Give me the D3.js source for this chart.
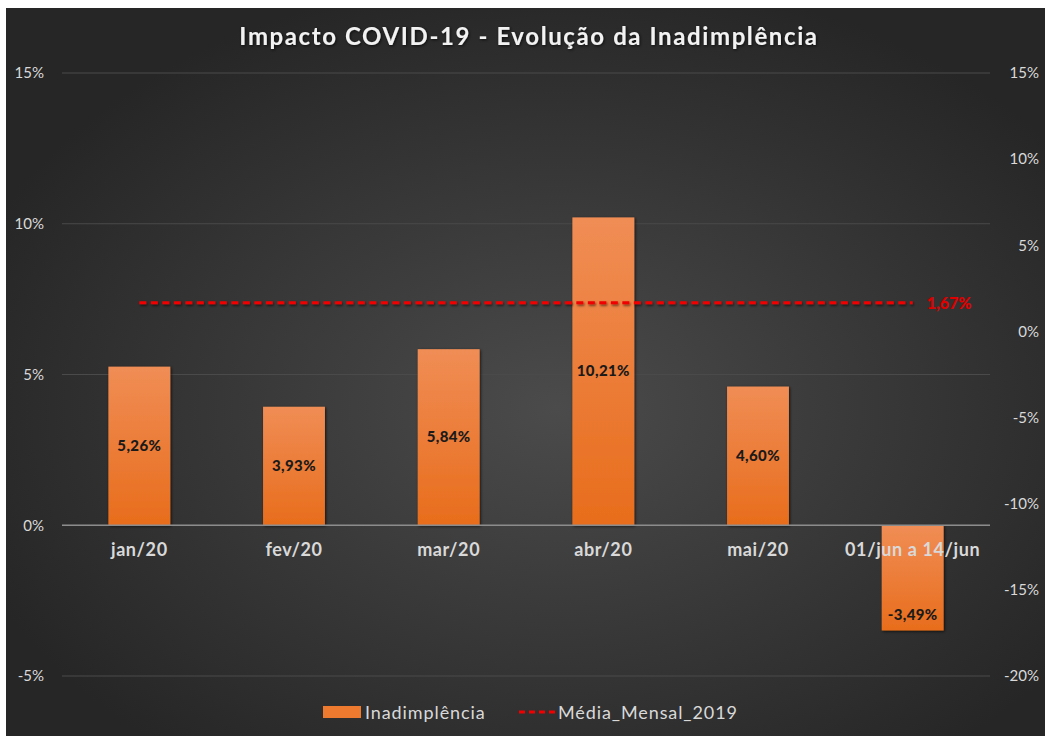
<!DOCTYPE html>
<html>
<head>
<meta charset="utf-8">
<script src="https://cdn.jsdelivr.net/npm/d3@7"></script>
<style>
  body { margin: 0; background: #fff; }
  svg { display: block; font-family: Lato, "Open Sans", sans-serif; }
</style>
</head>
<body>
<svg width="1045" height="736"></svg>
<script>
var categories = ["jan/20", "fev/20", "mar/20", "abr/20", "mai/20", "01/jun a 14/jun"];
var inadValues = [5.26, 3.93, 5.84, 10.21, 4.60, -3.49];
var mediaMensal2019 = 1.67;
var leftTicks = [-5, 0, 5, 10, 15];
var rightTicks = [-20, -15, -10, -5, 0, 5, 10, 15];

var svg = d3.select("svg");
var width = 1045, height = 736;
var fmt = function(v) { return d3.format(".2f")(v).replace("−", "-").replace(".", ",") + "%"; };
var pct = function(d) { return String(d).replace("−", "-") + "%"; };

var defs = svg.append("defs");
var bg = defs.append("radialGradient").attr("id", "bg")
  .attr("cx", "0.53").attr("cy", "0.55").attr("r", "0.6");
bg.append("stop").attr("offset", "0%").attr("stop-color", "#4b4b4b");
bg.append("stop").attr("offset", "100%").attr("stop-color", "#262626");

var barGrad = defs.append("linearGradient").attr("id", "barGrad")
  .attr("x1", 0).attr("y1", 0).attr("x2", 0).attr("y2", 1);
barGrad.append("stop").attr("offset", "0%").attr("stop-color", "#f08d55");
barGrad.append("stop").attr("offset", "100%").attr("stop-color", "#e86d1c");

var shadow = defs.append("filter").attr("id", "shadow")
  .attr("x", "-20%").attr("y", "-20%").attr("width", "140%").attr("height", "140%");
shadow.append("feDropShadow").attr("dx", 1).attr("dy", 1).attr("stdDeviation", 1.5)
  .attr("flood-color", "#000").attr("flood-opacity", 0.7);

var lineShadow = defs.append("filter").attr("id", "lineShadow")
  .attr("filterUnits", "userSpaceOnUse")
  .attr("x", 0).attr("y", 0).attr("width", width).attr("height", height);
lineShadow.append("feDropShadow").attr("dx", 1).attr("dy", 1.5).attr("stdDeviation", 1)
  .attr("flood-color", "#000").attr("flood-opacity", 0.6);

svg.append("rect").attr("x", 6).attr("y", 8).attr("width", width - 6).attr("height", height - 8)
  .attr("fill", "url(#bg)");

var plotLeft = 62, plotRight = 990;
var x = d3.scaleBand().domain(categories).range([plotLeft, plotRight]).paddingInner(0.6).paddingOuter(0.3);
var yL = d3.scaleLinear().domain([-5, 15]).range([676, 73]);
var yR = d3.scaleLinear().domain([-20, 15]).range([676, 73]);

// gridlines
svg.append("g").selectAll("line").data(leftTicks).enter().append("line")
  .attr("x1", plotLeft).attr("x2", plotRight)
  .attr("y1", function(d) { return yL(d); }).attr("y2", function(d) { return yL(d); })
  .attr("stroke", "#4a4a4a").attr("stroke-width", 1);

// left axis
var axL = svg.append("g").attr("transform", "translate(" + (plotLeft - 15) + ",0)")
  .call(d3.axisLeft(yL).tickValues(leftTicks).tickSize(0).tickFormat(pct));
axL.select(".domain").remove();
axL.selectAll("text").attr("fill", "#d9d9d9").attr("font-size", 15).style("font-family", "Lato, sans-serif");

// right axis
var axR = svg.append("g").attr("transform", "translate(" + 1039 + ",0)")
  .call(d3.axisLeft(yR).tickValues(rightTicks).tickSize(0).tickPadding(0).tickFormat(pct));
axR.select(".domain").remove();
axR.selectAll("text").attr("fill", "#d9d9d9").attr("font-size", 15).style("font-family", "Lato, sans-serif");

// bars
svg.append("g").selectAll("rect").data(inadValues).enter().append("rect")
  .attr("x", function(d, i) { return x(categories[i]); })
  .attr("width", x.bandwidth())
  .attr("y", function(d) { return yL(Math.max(0, d)); })
  .attr("height", function(d) { return Math.abs(yL(d) - yL(0)); })
  .attr("fill", "url(#barGrad)")
  .attr("filter", "url(#shadow)");

// zero line
svg.append("line").attr("x1", plotLeft).attr("x2", plotRight)
  .attr("y1", yL(0)).attr("y2", yL(0))
  .attr("stroke", "#8c8c8c").attr("stroke-width", 1.5);

// category labels
svg.append("g").selectAll("text").data(categories).enter().append("text")
  .attr("x", function(d) { return x(d) + x.bandwidth() / 2; })
  .attr("y", yL(0) + 31)
  .attr("text-anchor", "middle")
  .attr("fill", "#d9d9d9").attr("font-size", 18).attr("font-weight", "bold")
  .attr("letter-spacing", 0.6)
  .text(function(d) { return d; });

// value labels
svg.append("g").selectAll("text").data(inadValues).enter().append("text")
  .attr("x", function(d, i) { return x(categories[i]) + x.bandwidth() / 2; })
  .attr("y", function(d) { return d > 0 ? (yL(d) + yL(0)) / 2 + 5 : yL(d) - 10; })
  .attr("text-anchor", "middle")
  .attr("fill", "#1a1a1a").attr("font-size", 15).attr("font-weight", 900)
  .attr("letter-spacing", 0.4)
  .text(function(d) { return fmt(d); });

// media mensal line (right axis)
var x0 = x(categories[0]) + x.bandwidth() / 2;
var x1 = x(categories[categories.length - 1]) + x.bandwidth() / 2;
svg.append("line").attr("x1", x0).attr("x2", x1)
  .attr("y1", yR(mediaMensal2019)).attr("y2", yR(mediaMensal2019))
  .attr("stroke", "#f00000").attr("stroke-width", 3).attr("stroke-dasharray", "7,4.5")
  .attr("filter", "url(#lineShadow)");
svg.append("text").attr("x", x1 + 14).attr("y", yR(mediaMensal2019) + 6)
  .attr("fill", "#e00000").attr("font-size", 16).attr("font-weight", 900)
  .text(fmt(mediaMensal2019));

// title
svg.append("text").attr("x", 529).attr("y", 45).attr("text-anchor", "middle")
  .attr("fill", "#f2f2f2").attr("font-size", 24).attr("font-weight", "bold")
  .attr("letter-spacing", 1.6).attr("filter", "url(#shadow)")
  .text("Impacto COVID-19 - Evolução da Inadimplência");

// legend
var lg = svg.append("g");
lg.append("rect").attr("x", 323).attr("y", 706).attr("width", 38).attr("height", 12).attr("fill", "#ee7a30");
lg.append("text").attr("x", 365).attr("y", 719).attr("fill", "#d9d9d9").attr("font-size", 18)
  .attr("letter-spacing", 0.9)
  .text("Inadimplência");
lg.append("line").attr("x1", 519).attr("x2", 557).attr("y1", 712).attr("y2", 712)
  .attr("stroke", "#f00000").attr("stroke-width", 3).attr("stroke-dasharray", "6,4");
lg.append("text").attr("x", 558).attr("y", 719).attr("fill", "#d9d9d9").attr("font-size", 18)
  .attr("letter-spacing", 0.9)
  .text("Média_Mensal_2019");
</script>
</body>
</html>
